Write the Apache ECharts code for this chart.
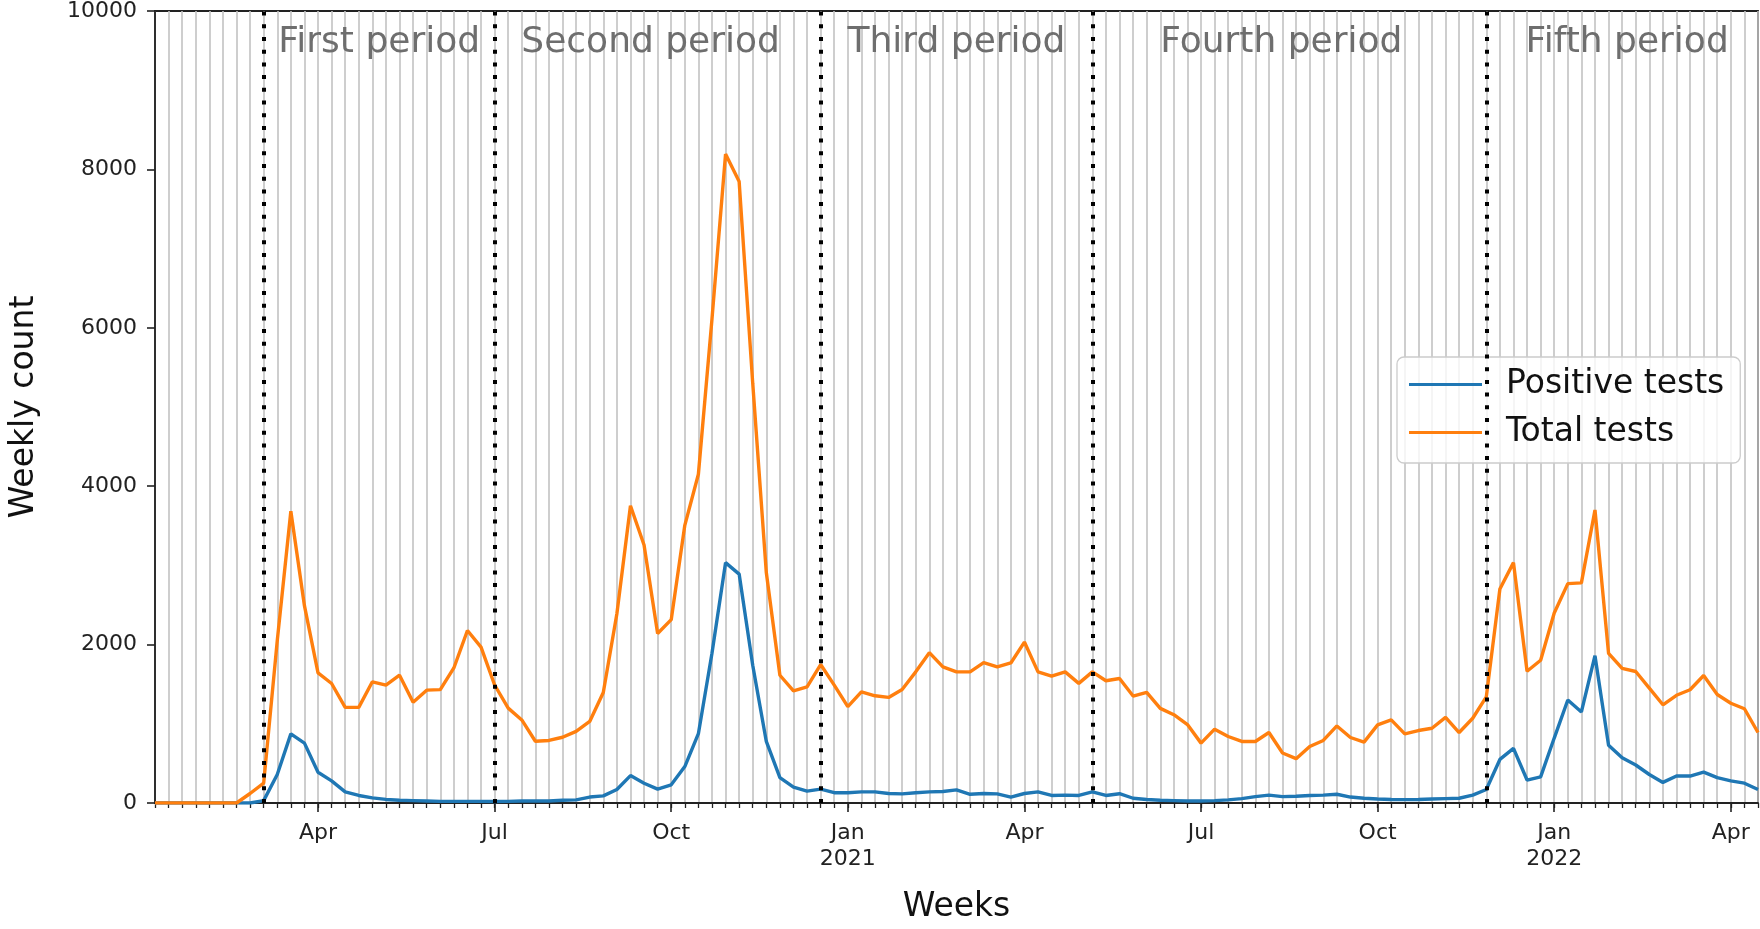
<!DOCTYPE html>
<html>
<head>
<meta charset="utf-8">
<script src="https://cdn.jsdelivr.net/npm/echarts@6/dist/echarts.min.js"></script>
<style>
html,body{margin:0;padding:0;background:#fff;}
#chart{width:1760px;height:929px;}
</style>
</head>
<body>
<div id="chart"></div>
<script>
// Weekly periods, starting with the week of 2020-01-06
const firstWeek = '2020-01-06';
const weekCount = 119;

const positiveTests = [
  0,0,0,0,0,0,0,0,30,359,
  873,756,388,280,140,95,65,45,35,30,
  25,20,20,20,20,18,20,25,25,25,
  35,40,75,90,170,346,250,175,230,460,
  875,1890,3035,2890,1740,777,320,200,150,175,
  130,130,140,140,120,115,130,140,145,165,
  110,120,115,75,120,140,95,100,95,140,
  95,117,60,45,35,30,25,25,30,40,
  55,80,100,80,85,95,100,110,75,60,
  50,45,42,45,50,55,60,100,170,550,
  690,290,330,820,1300,1150,1860,730,570,480,
  360,260,340,340,390,320,280,250,170
];

const totalTests = [
  0,0,0,0,0,0,0,120,250,2050,
  3684,2492,1642,1509,1208,1208,1530,1488,1614,1271,
  1425,1431,1705,2178,1969,1490,1198,1049,780,790,
  830,905,1030,1396,2389,3753,3257,2140,2315,3506,
  4151,6109,8193,7846,5300,2910,1613,1417,1467,1748,
  1488,1216,1404,1354,1333,1434,1656,1898,1718,1656,
  1656,1773,1718,1768,2032,1656,1602,1656,1510,1656,
  1543,1572,1350,1396,1195,1115,990,756,932,840,
  777,777,890,631,560,714,790,973,827,769,
  986,1049,873,915,944,1082,890,1070,1340,2701,
  3035,1664,1802,2400,2770,2780,3700,1890,1700,1660,
  1450,1240,1360,1430,1610,1370,1260,1190,890
];

// x tick positions (week index) and labels
const tickWeeks = [12, 25, 38, 51, 64, 77, 90, 103, 116];
const tickLabels = ['Apr', 'Jul', 'Oct', 'Jan\n2021', 'Apr', 'Jul', 'Oct', 'Jan\n2022', 'Apr'];

// y ticks
const yTicks = [0, 2000, 4000, 6000, 8000, 10000];

// period boundaries (week index) and names
const periodBounds = [8, 25, 49, 69, 98, 118];
const periodNames = ['First period', 'Second period', 'Third period', 'Fourth period', 'Fifth period'];
const periodLabelShift = [0, -7, 0, -8, 5];

// build week category strings
const weeks = [];
(function () {
  const d0 = new Date(firstWeek + 'T00:00:00Z');
  for (let i = 0; i < weekCount; i++) {
    const d = new Date(d0.getTime() + i * 7 * 86400000);
    weeks.push(d.toISOString().slice(0, 10));
  }
})();

const tickMap = {};
tickWeeks.forEach((w, k) => { tickMap[w] = tickLabels[k]; });

const FONT = 'DejaVu Sans';

const chart = echarts.init(document.getElementById('chart'), null, {renderer: 'canvas'});

const boundaryLines = periodBounds.slice(0, 5).map(b => ({xAxis: weeks[b]}));
const periodAreas = periodNames.map((n, k) => [
  {xAxis: weeks[periodBounds[k]], name: n,
   label: {offset: [periodLabelShift[k], 0]}},
  {xAxis: weeks[periodBounds[k + 1]]}
]);

chart.setOption({
  animation: false,
  backgroundColor: '#ffffff',
  textStyle: {fontFamily: FONT},
  grid: {left: 153, right: 2, top: 11, bottom: 121, show: true,
         borderColor: '#222', borderWidth: 1.8, backgroundColor: 'transparent'},
  legend: {
    left: 1397, top: 357,
    orient: 'vertical',
    icon: 'rect',
    itemWidth: 73, itemHeight: 3,
    itemGap: 15,
    padding: [11, 16, 14, 12],
    backgroundColor: 'rgba(255,255,255,0.8)',
    borderColor: '#cccccc', borderWidth: 1.3, borderRadius: 7,
    textStyle: {fontFamily: FONT, fontSize: 33, color: '#111', lineHeight: 33,
                padding: [0, 0, 0, 19]},
    data: ['Positive tests', 'Total tests']
  },
  xAxis: [
    {
      type: 'category', data: weeks, boundaryGap: false,
      axisLine: {show: true, lineStyle: {color: '#222', width: 1.8}},
      axisTick: {show: true, interval: 0, length: 5, lineStyle: {color: '#222', width: 1.3}},
      axisLabel: {show: false},
      splitLine: {show: true, interval: 0, lineStyle: {color: '#c2c2c2', width: 1.6}}
    },
    {
      type: 'category', data: weeks, boundaryGap: false, position: 'bottom',
      axisLine: {show: false},
      axisTick: {show: true, length: 9, lineStyle: {color: '#222', width: 1.6},
                 interval: (idx) => tickMap[idx] !== undefined},
      axisLabel: {show: true, margin: 17, fontFamily: FONT, fontSize: 22, color: '#222', lineHeight: 26,
                  interval: (idx) => tickMap[idx] !== undefined,
                  formatter: (v, idx) => tickMap[idx] !== undefined ? tickMap[idx] : ''},
      splitLine: {show: false},
      name: 'Weeks', nameLocation: 'middle', nameGap: 88,
      nameTextStyle: {fontFamily: FONT, fontSize: 33, color: '#111'}
    }
  ],
  yAxis: {
    type: 'value', min: yTicks[0], max: yTicks[yTicks.length - 1], interval: 2000,
    axisLine: {show: true, lineStyle: {color: '#222', width: 1.8}},
    axisTick: {show: true, length: 8, lineStyle: {color: '#222', width: 1.6}},
    axisLabel: {fontFamily: FONT, fontSize: 22, color: '#222', margin: 18,
                formatter: (v) => String(v)},
    splitLine: {show: false},
    name: 'Weekly count', nameLocation: 'middle', nameGap: 114,
    nameTextStyle: {fontFamily: FONT, fontSize: 33, color: '#111'}
  },
  series: [
    {
      name: 'Positive tests', type: 'line', xAxisIndex: 0, data: positiveTests,
      showSymbol: false, symbol: 'none', color: '#1f77b4',
      lineStyle: {color: '#1f77b4', width: 3.4}, z: 3
    },
    {
      name: 'Total tests', type: 'line', xAxisIndex: 0, data: totalTests,
      showSymbol: false, symbol: 'none', color: '#ff7f0e',
      lineStyle: {color: '#ff7f0e', width: 3.4}, z: 4,
      markLine: {
        silent: true, symbol: 'none', animation: false,
        label: {show: false},
        lineStyle: {color: '#000', width: 4, type: [4, 8.7], cap: 'butt'},
        data: boundaryLines
      },
      markArea: {
        silent: true,
        itemStyle: {color: 'rgba(0,0,0,0)'},
        label: {show: true, position: 'insideTop', distance: 14,
                fontFamily: FONT, fontSize: 36, color: '#6e6e6e'},
        data: periodAreas
      }
    }
  ]
});
</script>
</body>
</html>
